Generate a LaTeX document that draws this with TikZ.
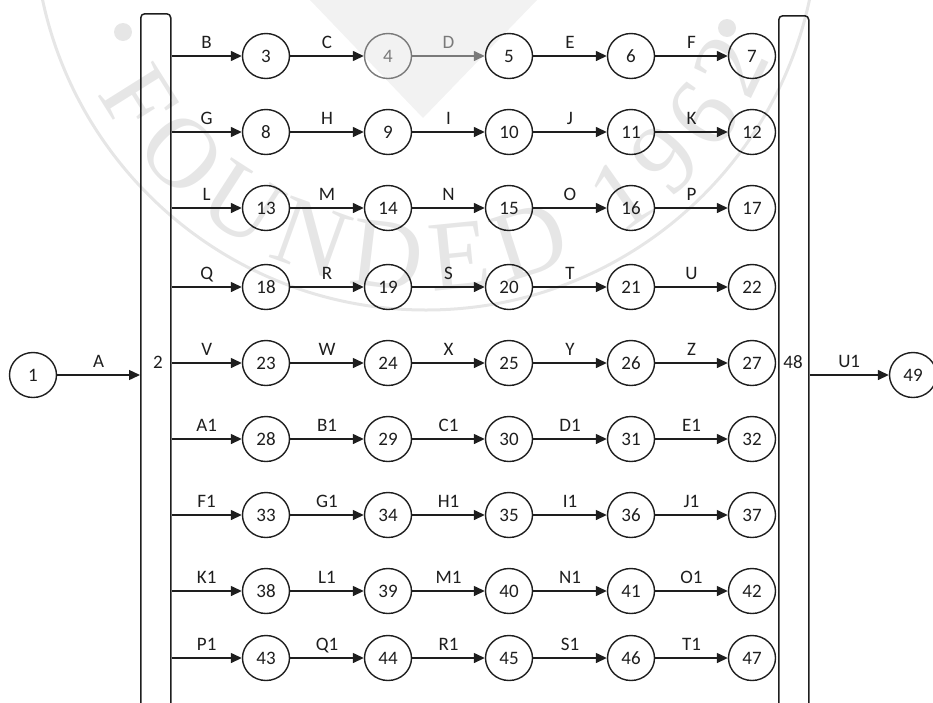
\documentclass[tikz,border=0pt]{standalone}
\usepackage{fontspec}
\setmainfont{Carlito}
\newfontfamily\sealfont{Liberation Serif}
\usetikzlibrary{arrows.meta,shapes.geometric,decorations.text}

\definecolor{ink}{HTML}{1E1E1E}
\definecolor{gryc}{HTML}{7A7A7A}
\definecolor{seal}{HTML}{E6E6E6}
\definecolor{sealfill}{HTML}{F2F2F2}

\begin{document}
\begin{tikzpicture}[x=1pt,y=-1pt,
  ev/.style={ellipse, draw=ink, line width=1.4pt, minimum width=47pt,
    minimum height=45pt, inner sep=0pt, text=ink,
    font=\fontsize{19}{21}\selectfont},
  arr/.style={color=ink, line width=1.4pt, -{Triangle[length=11pt,width=10pt]}},
  lbl/.style={midway, anchor=base, yshift=8pt, inner sep=0pt,
    font=\fontsize{19}{21}\selectfont},
  txt/.style={text=ink, font=\fontsize{19}{21}\selectfont},
  bar/.style={draw=ink, line width=1.5pt, rounded corners=4pt,
    minimum width=30pt, minimum height=740pt, anchor=north west, inner sep=0pt},
  gray4/.style={draw=gryc, text=gryc},
  grayin5/.style={color=gryc}
]
\useasboundingbox (0,0) rectangle (933,702);
\clip (0,0) rectangle (933,702);

% faint seal in the background
\fill[sealfill] (310,0) -- (423,118) -- (537,0) -- cycle;
\draw[seal, line width=3pt] (426,-82) circle[radius=392];
\fill[seal] (123,32) circle[radius=9];
\fill[seal] (727,28) circle[radius=9];
\path[decorate, decoration={text along path, text align=fit to path,
    text color=seal,
    text={|\sealfont\fontsize{100}{100}\selectfont|FOUNDED 1962}}]
  plot[domain=152:22, samples=80, smooth] ({426+372*cos(\x)},{-82+372*sin(\x)});

% the two collecting bars (events 2 and 48)
\node[bar] (bar2) at (140,13) {};
\node[bar] (bar48) at (778,15) {};
\node[txt] (t2) at (158,362) {2};
\node[txt] (t48) at (793,362) {48};

% start and end events
\node[ev] (n1) at (33,375) {1};
\node[ev] (n49) at (913,375) {49};
\draw[arr] (n1) -- (n1 -| bar2.west) node[lbl]{A};
\draw[arr] (bar48.east |- n49) -- (n49) node[lbl]{U1};

% nine parallel chains of five activities
\foreach \r/\y/\la/\lb/\lc/\ld/\le in {
  0/56/B/C/D/E/F, 1/132/G/H/I/J/K, 2/208/L/M/N/O/P,
  3/287/Q/R/S/T/U, 4/363/V/W/X/Y/Z, 5/439/A1/B1/C1/D1/E1,
  6/515/F1/G1/H1/I1/J1, 7/591/K1/L1/M1/N1/O1, 8/658/P1/Q1/R1/S1/T1}{
  \foreach \c/\x/\l in {0/266/\la, 1/388/\lb, 2/509/\lc, 3/631/\ld, 4/752/\le}{
    \pgfmathtruncatemacro{\n}{3+5*\r+\c}
    \pgfmathtruncatemacro{\p}{\n-1}
    \node[ev, gray\n/.try] (n\n) at (\x,\y) {\n};
    \ifnum\c=0
      \draw[arr] (bar2.east |- n\n) -- (n\n) node[lbl]{\l};
    \else
      \draw[arr, grayin\n/.try] (n\p) -- (n\n) node[lbl]{\l};
    \fi
  }
}
\end{tikzpicture}
\end{document}
